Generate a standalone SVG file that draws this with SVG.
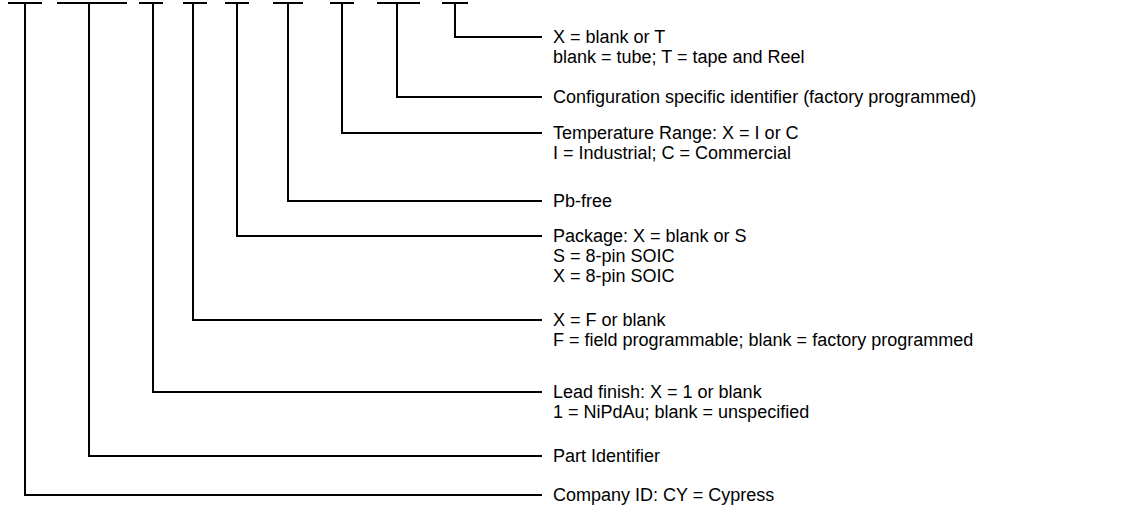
<svg xmlns="http://www.w3.org/2000/svg" width="1126" height="510" viewBox="0 0 1126 510">
<style>
  .bar { stroke: #000; stroke-width: 2; fill: none; }
  .lead { stroke: #000; stroke-width: 2; fill: none; stroke-linejoin: miter; }
  text { font-family: "Liberation Sans", Arial, sans-serif; font-size: 18px; fill: #000; }
</style>
<rect width="1126" height="510" fill="#fff"/>
<g id="connectors">
  <path class="bar" d="M8 3H42M57 3H127M139 3H163M183 3H207M225 3H249M273 3H303M330 3H354M377 3H420M442 3H468"/>
  <path class="lead" d="M25 3V495H542"/>
  <path class="lead" d="M89 3V456H542"/>
  <path class="lead" d="M153 3V392H542"/>
  <path class="lead" d="M193 3V320H542"/>
  <path class="lead" d="M237 3V236H542"/>
  <path class="lead" d="M288 3V201H542"/>
  <path class="lead" d="M342 3V133H542"/>
  <path class="lead" d="M397 3V97H542"/>
  <path class="lead" d="M455 3V37H542"/>
</g>
<g id="packing">
  <text x="553" y="43">X = blank or T</text>
  <text x="553" y="63">blank = tube; T = tape and Reel</text>
</g>
<g id="config">
  <text x="553" y="103">Configuration specific identifier (factory programmed)</text>
</g>
<g id="temperature">
  <text x="553" y="139">Temperature Range: X = I or C</text>
  <text x="553" y="159">I = Industrial; C = Commercial</text>
</g>
<g id="pbfree">
  <text x="553" y="207">Pb-free</text>
</g>
<g id="package">
  <text x="553" y="242">Package: X = blank or S</text>
  <text x="553" y="262">S = 8-pin SOIC</text>
  <text x="553" y="282">X = 8-pin SOIC</text>
</g>
<g id="programming">
  <text x="553" y="326">X = F or blank</text>
  <text x="553" y="346">F = field programmable; blank = factory programmed</text>
</g>
<g id="lead-finish">
  <text x="553" y="398">Lead finish: X = 1 or blank</text>
  <text x="553" y="418">1 = NiPdAu; blank = unspecified</text>
</g>
<g id="part-id">
  <text x="553" y="462">Part Identifier</text>
</g>
<g id="company-id">
  <text x="553" y="501">Company ID: CY = Cypress</text>
</g>
</svg>
